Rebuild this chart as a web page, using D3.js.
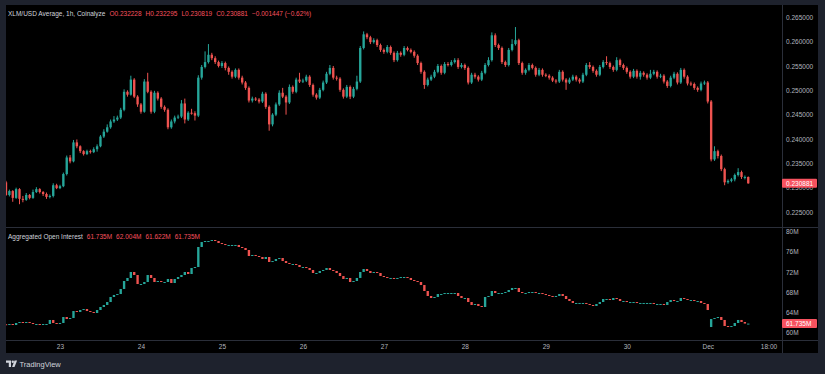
<!DOCTYPE html>
<html lang="en">
<head>
<meta charset="UTF-8">
<title>XLM/USD Average, 1h, Coinalyze</title>
<style>
body { margin: 0; background: #1e222d; }
svg { display: block; font-family: "Liberation Sans", Arial, sans-serif; }
.axis .domain, .axis line { display: none; }
.axis text { fill: #b2b5be; font-size: 6.5px; }
</style>
</head>
<body>
<svg width="825" height="374"></svg>
<script src="https://d3js.org/d3.v7.min.js"></script>
<script>

// hourly candles, first one at 22 Nov 08:00 UTC
var firstTime = Date.UTC(2025, 10, 22, 8);
var firstOpen = 0.2311;

var closes = [
  0.2285,0.2293,0.2279,0.2297,0.2277,0.2275,0.2285,0.2279,0.2291,0.2297,
  0.2291,0.2287,0.2281,0.2283,0.2305,0.2299,0.2303,0.2328,0.2362,0.2354,
  0.2393,0.2385,0.2375,0.2369,0.2375,0.2373,0.2379,0.2385,0.2405,0.2415,
  0.2424,0.2436,0.2440,0.2444,0.2460,0.2497,0.2491,0.2522,0.2487,0.2471,
  0.2456,0.2518,0.2497,0.2456,0.2495,0.2483,0.2466,0.2460,0.2424,0.2436,
  0.2444,0.2446,0.2473,0.2440,0.2454,0.2453,0.2448,0.2526,0.2548,0.2558,
  0.2573,0.2566,0.2558,0.2550,0.2556,0.2546,0.2538,0.2528,0.2542,0.2526,
  0.2516,0.2505,0.2479,0.2483,0.2481,0.2477,0.2493,0.2466,0.2430,0.2450,
  0.2471,0.2495,0.2487,0.2475,0.2507,0.2497,0.2522,0.2518,0.2520,0.2528,
  0.2511,0.2491,0.2485,0.2501,0.2516,0.2534,0.2546,0.2526,0.2524,0.2501,
  0.2487,0.2507,0.2487,0.2503,0.2518,0.2587,0.2615,0.2609,0.2599,0.2603,
  0.2593,0.2583,0.2579,0.2589,0.2577,0.2562,0.2577,0.2573,0.2587,0.2583,
  0.2579,0.2571,0.2556,0.2538,0.2511,0.2522,0.2528,0.2538,0.2550,0.2536,
  0.2554,0.2552,0.2558,0.2562,0.2548,0.2552,0.2546,0.2516,0.2532,0.2528,
  0.2522,0.2536,0.2552,0.2562,0.2613,0.2593,0.2587,0.2558,0.2552,0.2583,
  0.2595,0.2603,0.2556,0.2536,0.2542,0.2552,0.2546,0.2532,0.2542,0.2532,
  0.2530,0.2526,0.2520,0.2518,0.2538,0.2522,0.2516,0.2522,0.2528,0.2522,
  0.2518,0.2532,0.2552,0.2548,0.2540,0.2532,0.2548,0.2558,0.2556,0.2548,
  0.2542,0.2562,0.2552,0.2546,0.2538,0.2528,0.2540,0.2528,0.2536,0.2532,
  0.2526,0.2534,0.2538,0.2528,0.2530,0.2518,0.2509,0.2526,0.2534,0.2516,
  0.2542,0.2528,0.2514,0.2513,0.2505,0.2501,0.2514,0.2516,0.2477,0.2358,
  0.2375,0.2365,0.2338,0.2311,0.2314,0.2317,0.2326,0.2332,0.2322,0.2322,
  0.230881
];

var highs = [
  0.2314,0.2296,0.2295,0.2300,0.2299,0.2283,0.2289,0.2287,0.2296,0.2301,
  0.2299,0.2293,0.2290,0.2286,0.2309,0.2308,0.2306,0.2331,0.2366,0.2367,
  0.2398,0.2399,0.2387,0.2377,0.2378,0.2378,0.2383,0.2389,0.2408,0.2420,
  0.2430,0.2440,0.2447,0.2448,0.2464,0.2502,0.2500,0.2530,0.2525,0.2490,
  0.2474,0.2523,0.2536,0.2500,0.2499,0.2498,0.2486,0.2469,0.2463,0.2440,
  0.2448,0.2450,0.2480,0.2483,0.2457,0.2462,0.2457,0.2531,0.2552,0.2580,
  0.2595,0.2577,0.2570,0.2561,0.2560,0.2559,0.2549,0.2541,0.2545,0.2545,
  0.2530,0.2519,0.2508,0.2487,0.2486,0.2484,0.2497,0.2496,0.2469,0.2453,
  0.2475,0.2500,0.2505,0.2490,0.2512,0.2510,0.2526,0.2536,0.2524,0.2532,
  0.2531,0.2514,0.2494,0.2505,0.2520,0.2538,0.2552,0.2550,0.2530,0.2527,
  0.2504,0.2511,0.2510,0.2507,0.2530,0.2591,0.2621,0.2618,0.2612,0.2607,
  0.2606,0.2596,0.2586,0.2593,0.2592,0.2580,0.2581,0.2580,0.2591,0.2590,
  0.2586,0.2582,0.2574,0.2559,0.2541,0.2526,0.2532,0.2542,0.2554,0.2553,
  0.2558,0.2558,0.2562,0.2566,0.2566,0.2556,0.2555,0.2549,0.2536,0.2536,
  0.2531,0.2540,0.2556,0.2568,0.2619,0.2617,0.2596,0.2590,0.2561,0.2587,
  0.2605,0.2630,0.2606,0.2559,0.2545,0.2556,0.2555,0.2549,0.2546,0.2545,
  0.2535,0.2533,0.2529,0.2523,0.2542,0.2541,0.2525,0.2526,0.2532,0.2531,
  0.2525,0.2536,0.2556,0.2558,0.2551,0.2543,0.2552,0.2562,0.2570,0.2559,
  0.2551,0.2568,0.2565,0.2555,0.2549,0.2541,0.2544,0.2543,0.2540,0.2539,
  0.2535,0.2542,0.2542,0.2541,0.2534,0.2533,0.2521,0.2530,0.2538,0.2537,
  0.2546,0.2545,0.2531,0.2518,0.2516,0.2508,0.2518,0.2520,0.2519,0.2480,
  0.2385,0.2378,0.2368,0.2341,0.2317,0.2320,0.2329,0.2340,0.2335,0.2325,
  0.232295
];

var lows = [
  0.2283,0.2282,0.2271,0.2277,0.2266,0.2270,0.2273,0.2276,0.2277,0.2289,
  0.2288,0.2283,0.2277,0.2278,0.2280,0.2297,0.2297,0.2301,0.2325,0.2350,
  0.2352,0.2381,0.2371,0.2366,0.2367,0.2370,0.2371,0.2374,0.2383,0.2402,
  0.2413,0.2421,0.2433,0.2437,0.2441,0.2457,0.2487,0.2489,0.2484,0.2466,
  0.2452,0.2454,0.2494,0.2452,0.2453,0.2479,0.2462,0.2456,0.2420,0.2421,
  0.2432,0.2441,0.2443,0.2432,0.2437,0.2450,0.2438,0.2445,0.2522,0.2545,
  0.2555,0.2562,0.2554,0.2547,0.2546,0.2541,0.2532,0.2524,0.2525,0.2522,
  0.2512,0.2501,0.2475,0.2475,0.2478,0.2473,0.2474,0.2462,0.2417,0.2426,
  0.2447,0.2468,0.2484,0.2450,0.2472,0.2493,0.2494,0.2515,0.2515,0.2517,
  0.2507,0.2487,0.2481,0.2482,0.2498,0.2513,0.2531,0.2522,0.2520,0.2497,
  0.2483,0.2484,0.2482,0.2484,0.2500,0.2515,0.2584,0.2605,0.2595,0.2596,
  0.2589,0.2579,0.2575,0.2576,0.2573,0.2558,0.2559,0.2569,0.2570,0.2580,
  0.2576,0.2567,0.2552,0.2534,0.2503,0.2508,0.2519,0.2525,0.2535,0.2532,
  0.2533,0.2549,0.2549,0.2555,0.2544,0.2545,0.2542,0.2512,0.2513,0.2524,
  0.2518,0.2519,0.2533,0.2549,0.2559,0.2589,0.2583,0.2554,0.2548,0.2549,
  0.2580,0.2592,0.2552,0.2532,0.2532,0.2539,0.2543,0.2528,0.2529,0.2528,
  0.2527,0.2522,0.2517,0.2514,0.2515,0.2518,0.2501,0.2513,0.2519,0.2518,
  0.2514,0.2515,0.2529,0.2544,0.2536,0.2528,0.2529,0.2545,0.2552,0.2544,
  0.2538,0.2539,0.2548,0.2542,0.2534,0.2524,0.2525,0.2524,0.2522,0.2528,
  0.2522,0.2523,0.2531,0.2524,0.2525,0.2514,0.2505,0.2506,0.2523,0.2512,
  0.2513,0.2524,0.2510,0.2509,0.2501,0.2497,0.2498,0.2511,0.2473,0.2354,
  0.2355,0.2360,0.2334,0.2305,0.2308,0.2311,0.2313,0.2323,0.2318,0.2317,
  0.230819
];

// aggregated open interest, millions
var oiFirstOpen = 61.6;
var oiCloses = [
  61.45,61.65,61.45,61.85,62.05,61.85,62.05,61.85,61.65,61.65,
  61.45,61.65,61.65,62.45,61.85,61.65,61.85,63.04,62.64,62.84,
  64.23,64.04,64.43,64.63,64.23,64.04,63.84,64.43,65.03,65.43,
  66.02,67.02,67.42,67.61,68.61,70.20,70.80,71.99,71.39,69.60,
  69.60,70.00,71.39,70.80,70.00,70.20,70.00,70.00,70.60,69.80,
  70.60,70.99,71.39,71.99,71.59,72.78,72.98,76.96,77.95,78.15,
  78.15,78.35,78.15,77.75,77.55,77.36,77.36,77.36,77.36,76.96,
  76.76,76.36,75.17,75.37,75.17,74.97,74.57,74.97,73.98,74.17,
  74.57,74.77,74.17,73.78,73.58,73.58,73.38,72.98,72.98,72.78,
  72.39,71.79,71.79,72.19,72.39,72.78,72.39,72.19,71.79,71.19,
  70.60,70.80,70.00,70.20,70.80,71.99,72.58,72.19,71.79,71.99,
  71.79,71.19,70.99,70.80,70.80,70.60,70.80,70.99,70.99,70.80,
  70.40,70.20,70.00,69.40,68.21,67.22,66.82,67.02,67.61,67.61,
  67.81,67.81,67.81,67.81,67.22,66.82,66.82,66.02,65.43,65.63,
  65.23,65.03,67.02,67.22,68.21,67.81,67.81,67.81,68.01,68.41,
  68.81,68.81,68.01,67.81,67.81,68.01,68.01,67.81,67.81,67.61,
  67.42,67.22,67.02,67.22,67.61,67.22,66.62,66.22,65.83,65.83,
  65.83,65.83,65.63,65.43,65.23,65.63,66.02,66.62,66.62,66.42,
  66.82,66.62,66.22,66.22,66.02,66.02,66.02,65.83,65.83,65.83,
  65.83,65.83,65.63,65.63,65.63,65.43,66.02,66.42,66.22,66.22,
  66.82,66.62,66.42,66.42,66.22,66.22,65.83,65.63,64.43,62.64,
  62.84,63.04,62.45,61.25,61.05,61.25,61.85,62.45,62.05,61.735,
  61.735
];
var oiOpenGaps = [[209, 61.05]];

var priceTicks = [0.225, 0.23, 0.235, 0.24, 0.245, 0.25, 0.255, 0.26, 0.265];
var oiTicks = [60, 64, 68, 72, 76, 80];
var timeTicks = [
  Date.UTC(2025, 10, 23), Date.UTC(2025, 10, 24), Date.UTC(2025, 10, 25),
  Date.UTC(2025, 10, 26), Date.UTC(2025, 10, 27), Date.UTC(2025, 10, 28),
  Date.UTC(2025, 10, 29), Date.UTC(2025, 10, 30), Date.UTC(2025, 11, 1),
  Date.UTC(2025, 11, 1, 18)
];

var priceTitle = "XLM/USD Average, 1h, Coinalyze";
var priceLegend = ["O0.232228", "H0.232295", "L0.230819", "C0.230881", "\u22120.001447 (\u22120.62%)"];
var oiTitle = "Aggregated Open Interest";
var oiLegend = ["61.735M", "62.004M", "61.622M", "61.735M"];

var up = "#26a69a", down = "#ef5350", labelRed = "#f7525f", lineCol = "#2a2e39";

var svg = d3.select("svg"),
    left = 6, right = 782, axisRight = 818,
    top1 = 5, bot1 = 227, bot2 = 340, bottom = 353;

var hour = 36e5;
var candles = closes.map(function(c, i) {
  return {t: new Date(firstTime + i * hour), o: i ? closes[i - 1] : firstOpen, h: highs[i], l: lows[i], c: c};
});
var oi = oiCloses.map(function(c, i) {
  return {t: new Date(firstTime + i * hour), o: i ? oiCloses[i - 1] : oiFirstOpen, c: c};
});
oiOpenGaps.forEach(function(g) { oi[g[0]].o = g[1]; });

var x = d3.scaleUtc()
    .domain([new Date(firstTime), new Date(firstTime + 230 * hour)])
    .range([left, right]);
var y = d3.scaleLinear().domain([0.225, 0.265]).range([212, 17.3]);
var yOi = d3.scaleLinear().domain([60, 80]).range([332.3, 231.7]);

var step = x(new Date(firstTime + hour)) - x(new Date(firstTime)),
    bw = step * 0.7;

// frame + chart background
svg.append("rect").attr("width", 825).attr("height", 374).attr("fill", "#1e222d");
svg.append("rect").attr("x", left).attr("y", top1).attr("width", axisRight - left)
    .attr("height", bottom - top1).attr("fill", "#000");

var defs = svg.append("defs");
defs.append("clipPath").attr("id", "c1").append("rect")
    .attr("x", left).attr("y", top1).attr("width", right - left).attr("height", bot1 - top1);
defs.append("clipPath").attr("id", "c2").append("rect")
    .attr("x", left).attr("y", bot1 + 1).attr("width", right - left).attr("height", bot2 - bot1 - 1);

// separators
svg.append("g").attr("stroke", lineCol).attr("shape-rendering", "crispEdges")
  .selectAll("line")
  .data([[left, bot1 + 0.5, axisRight, bot1 + 0.5], [left, bot2 + 0.5, axisRight, bot2 + 0.5], [right + 0.5, top1, right + 0.5, bottom]])
  .enter().append("line")
    .attr("x1", function(d) { return d[0]; }).attr("y1", function(d) { return d[1]; })
    .attr("x2", function(d) { return d[2]; }).attr("y2", function(d) { return d[3]; });

// price candles
var g1 = svg.append("g").attr("clip-path", "url(#c1)");
var pc = g1.selectAll("g").data(candles).enter().append("g")
    .attr("fill", function(d) { return d.c >= d.o ? up : down; });
pc.append("rect")
    .attr("x", function(d) { return x(d.t) - 0.5; })
    .attr("width", 1)
    .attr("y", function(d) { return y(d.h); })
    .attr("height", function(d) { return Math.max(1, y(d.l) - y(d.h)); });
pc.append("rect")
    .attr("x", function(d) { return x(d.t) - bw / 2; })
    .attr("width", bw)
    .attr("y", function(d) { return y(Math.max(d.o, d.c)); })
    .attr("height", function(d) { return Math.max(1, Math.abs(y(d.o) - y(d.c))); });

// open interest candles
var g2 = svg.append("g").attr("clip-path", "url(#c2)");
g2.selectAll("rect").data(oi).enter().append("rect")
    .attr("fill", function(d) { return d.c >= d.o ? up : down; })
    .attr("x", function(d) { return x(d.t) - bw / 2; })
    .attr("width", bw)
    .attr("y", function(d) { return yOi(Math.max(d.o, d.c)); })
    .attr("height", function(d) { return Math.max(1, Math.abs(yOi(d.o) - yOi(d.c))); });

// axes
svg.append("g").attr("class", "axis")
    .attr("transform", "translate(" + right + ",0)")
    .call(d3.axisRight(y).tickValues(priceTicks).tickFormat(d3.format(".6f")).tickSize(0).tickPadding(4));

svg.append("g").attr("class", "axis")
    .attr("transform", "translate(" + right + ",0)")
    .call(d3.axisRight(yOi).tickValues(oiTicks).tickFormat(function(d) { return d + "M"; }).tickSize(0).tickPadding(4));

var fDay = d3.utcFormat("%-d"), fMon = d3.utcFormat("%b"), fHour = d3.utcFormat("%H:%M");
svg.append("g").attr("class", "axis")
    .attr("transform", "translate(0," + bot2 + ")")
    .call(d3.axisBottom(x).tickValues(timeTicks.map(function(t) { return new Date(t); }))
      .tickFormat(function(d) {
        if (d.getUTCHours()) return fHour(d);
        return d.getUTCDate() === 1 ? fMon(d) : fDay(d);
      })
      .tickSize(0).tickPadding(4));

// last value labels
var last = candles[candles.length - 1], lastOi = oi[oi.length - 1];
[[y(last.c), d3.format(".6f")(last.c)], [yOi(lastOi.c), d3.format(".3f")(lastOi.c) + "M"]].forEach(function(p) {
  svg.append("rect").attr("x", right).attr("y", p[0] - 4.5).attr("width", 35).attr("height", 9)
      .attr("fill", labelRed).attr("rx", 1);
  svg.append("text").attr("x", right + 4).attr("y", p[0]).attr("dy", "0.35em")
      .attr("fill", "#fff").attr("font-size", 6.5).text(p[1]);
});

// legends
function legend(yPos, title, values) {
  var t = svg.append("text").attr("x", 8).attr("y", yPos).attr("font-size", 6.5).attr("fill", "#d1d4dc");
  t.append("tspan").text(title);
  values.forEach(function(v) {
    t.append("tspan").attr("fill", labelRed).attr("dx", 4).text(v);
  });
}
legend(16, priceTitle, priceLegend);
legend(239, oiTitle, oiLegend);

// footer
var logo = svg.append("g").attr("fill", "#d1d4dc");
logo.append("path").attr("d", "M6,360.5h5v6.5h-2.2v-4.3h-2.8z");
logo.append("circle").attr("cx", 12.8).attr("cy", 361.8).attr("r", 1.2);
logo.append("path").attr("d", "M14.5,360.5h2.6l-2.6,6.5h-2.4z");
svg.append("text").attr("x", 19.5).attr("y", 366.5).attr("font-size", 7.5)
    .attr("fill", "#d1d4dc").text("TradingView");

</script>
</body>
</html>
